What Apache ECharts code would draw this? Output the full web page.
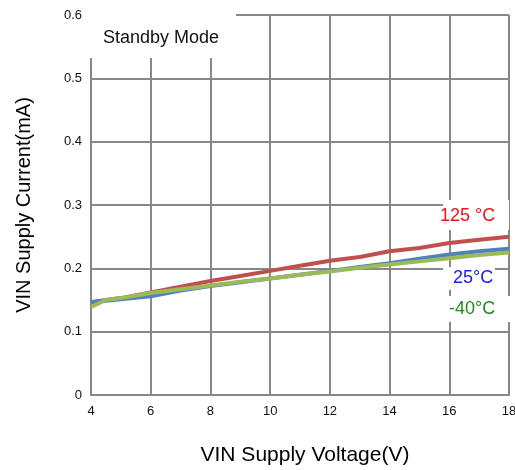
<!DOCTYPE html>
<html>
<head>
    <meta charset="utf-8" />
    <title>Standby Mode</title>
    <script src="https://cdn.jsdelivr.net/npm/echarts@6/dist/echarts.min.js"></script>
</head>
<body style="margin:0;background:#fff;">
    <div id="container" style="width:515px;height:470px;"></div>
    <script type="text/javascript">
    // supply voltage (V)
    var vin = [4, 4.5, 5, 6, 7, 8, 9, 10, 11, 12, 13, 14, 15, 16, 17, 18];
    // supply current (mA)
    var i125 = [0.146, 0.150, 0.153, 0.162, 0.171, 0.180, 0.188, 0.196, 0.204, 0.212, 0.218, 0.227, 0.232, 0.240, 0.245, 0.250];
    var i25 = [0.147, 0.149, 0.151, 0.156, 0.165, 0.172, 0.178, 0.184, 0.190, 0.196, 0.202, 0.208, 0.215, 0.222, 0.227, 0.231];
    var im40 = [0.139, 0.150, 0.153, 0.161, 0.167, 0.173, 0.179, 0.184, 0.190, 0.195, 0.201, 0.206, 0.211, 0.216, 0.221, 0.225];
    var seriesNames = ['125 °C', '25°C', '-40°C'];

    function pairs(ys) {
        var out = [];
        for (var k = 0; k < vin.length; k++) {
            out.push([vin[k], ys[k]]);
        }
        return out;
    }

    var gridColor = '#888';
    var tickFont = {
        color: '#111',
        fontSize: 13,
        fontFamily: 'Liberation Sans'
    };

    var option = {
        animation: false,
        backgroundColor: '#fff',
        grid: { left: 91, right: 6, top: 15, bottom: 75, outerBoundsMode: 'none', containLabel: false },
        xAxis: {
            type: 'value',
            min: 4, max: 18, interval: 2,
            name: 'VIN Supply Voltage(V)',
            nameLocation: 'middle',
            nameGap: 50,
            nameTextStyle: { color: '#000', fontSize: 21, fontFamily: 'Liberation Sans', padding: [0, 0, 0, 10] },
            axisLine: { show: true, lineStyle: { color: gridColor, width: 2 } },
            axisTick: { show: false },
            axisLabel: Object.assign({ margin: 10 }, tickFont),
            splitLine: { show: true, lineStyle: { color: gridColor, width: 2 } }
        },
        yAxis: {
            type: 'value',
            min: 0, max: 0.6, interval: 0.1,
            name: 'VIN Supply Current(mA)',
            nameLocation: 'middle',
            nameGap: 57,
            nameTextStyle: { color: '#000', fontSize: 20, fontFamily: 'Liberation Sans' },
            axisLine: { show: true, lineStyle: { color: gridColor, width: 2 } },
            axisTick: { show: false },
            axisLabel: Object.assign({
                margin: 9,
                formatter: function (v) { return v === 0 ? '0' : v.toFixed(1); }
            }, tickFont),
            splitLine: { show: true, lineStyle: { color: gridColor, width: 2 } }
        },
        series: [
            { name: seriesNames[0], type: 'line', showSymbol: false, data: pairs(i125), lineStyle: { color: '#c0504d', width: 4 }, z: 3 },
            { name: seriesNames[1], type: 'line', showSymbol: false, data: pairs(i25), lineStyle: { color: '#4f81bd', width: 4 }, z: 4 },
            { name: seriesNames[2], type: 'line', showSymbol: false, data: pairs(im40), lineStyle: { color: '#9bbb59', width: 4 }, z: 5 }
        ],
        graphic: [
            { type: 'rect', shape: { x: 90, y: 12, width: 146, height: 46 }, style: { fill: '#fff' }, z: 10 },
            { type: 'text', x: 103, y: 38, style: { text: 'Standby Mode', fill: '#111', font: '18px "Liberation Sans"', verticalAlign: 'middle' }, z: 11 },
            { type: 'rect', shape: { x: 443, y: 200, width: 66, height: 30 }, style: { fill: '#fff' }, z: 10 },
            { type: 'text', x: 440, y: 216, style: { text: seriesNames[0], fill: '#e8141b', font: '18px "Liberation Sans"', verticalAlign: 'middle' }, z: 11 },
            { type: 'rect', shape: { x: 443, y: 267, width: 52, height: 23 }, style: { fill: '#fff' }, z: 10 },
            { type: 'text', x: 453, y: 278, style: { text: seriesNames[1], fill: '#1a1ae6', font: '18px "Liberation Sans"', verticalAlign: 'middle' }, z: 11 },
            { type: 'rect', shape: { x: 446, y: 296, width: 64, height: 26 }, style: { fill: '#fff' }, z: 10 },
            { type: 'text', x: 449, y: 309, style: { text: seriesNames[2], fill: '#1e8c1e', font: '18px "Liberation Sans"', verticalAlign: 'middle' }, z: 11 }
        ]
    };

    var myChart = echarts.init(document.getElementById('container'));
    myChart.setOption(option);
    </script>
</body>
</html>
